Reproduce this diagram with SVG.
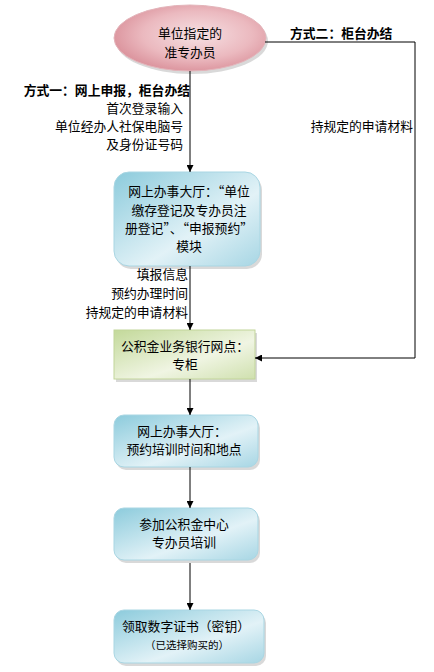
<svg xmlns="http://www.w3.org/2000/svg" width="434" height="672" viewBox="0 0 434 672">
<style>
text{font-family:"SimSun","Noto Sans CJK SC",sans-serif;font-size:12.8px;fill:#000}
.b{font-weight:bold}
.c{text-anchor:middle}
.r{text-anchor:end}
.sm{font-size:10.5px}
.blue{fill:url(#gb);stroke:#a9d6e3;stroke-width:1}
.green{fill:url(#gg);stroke:#c2d59a;stroke-width:1}
.sh{fill:#c9c9c9;opacity:0.7}
.ln{fill:none;stroke:#000;stroke-width:1}
</style>
<defs>
<linearGradient id="gb" x1="0" y1="0" x2="1" y2="1">
<stop offset="0" stop-color="#8ccbdc"/>
<stop offset="0.6" stop-color="#e2f2f7"/>
<stop offset="1" stop-color="#a7d6e4"/>
</linearGradient>
<linearGradient id="gg" x1="0" y1="0" x2="1" y2="1">
<stop offset="0" stop-color="#c3d99a"/>
<stop offset="0.6" stop-color="#f0f5e3"/>
<stop offset="1" stop-color="#cfe0ae"/>
</linearGradient>
<radialGradient id="gp" cx="0.55" cy="0.45" r="0.6">
<stop offset="0" stop-color="#f6e0e3"/>
<stop offset="0.6" stop-color="#ebb9bf"/>
<stop offset="1" stop-color="#d98e98"/>
</radialGradient>
<marker id="ar" viewBox="0 0 10 10" refX="10" refY="5" markerWidth="7" markerHeight="7" markerUnits="userSpaceOnUse" orient="auto">
<path d="M0,0 L10,5 L0,10 z" fill="#000"/>
</marker>
</defs>

<g id="n-start">
<ellipse class="sh" cx="192" cy="41" rx="76" ry="33"/>
<ellipse cx="190" cy="38" rx="76" ry="33" fill="url(#gp)" stroke="#e3b4ba"/>
<text class="c" x="190" y="38">单位指定的</text>
<text class="c" x="190" y="57">准专办员</text>
</g>

<g id="n-online">
<rect class="sh" x="116" y="175" width="146" height="94" rx="15"/>
<rect class="blue" x="114" y="172" width="146" height="94" rx="15"/>
<text class="c" x="189" y="196">网上办事大厅：“单位</text>
<text class="c" x="189" y="215">缴存登记及专办员注</text>
<text class="c" x="189" y="233">册登记”、“申报预约”</text>
<text class="c" x="189" y="251">模块</text>
</g>

<g id="n-bank">
<rect class="sh" x="116" y="333" width="141" height="49"/>
<rect class="green" x="114" y="330" width="141" height="49"/>
<text class="c" x="185" y="351">公积金业务银行网点：</text>
<text class="c" x="185" y="369">专柜</text>
</g>

<g id="n-book">
<rect class="sh" x="116" y="418" width="144" height="52" rx="10"/>
<rect class="blue" x="114" y="415" width="144" height="52" rx="10"/>
<text class="c" x="182" y="436">网上办事大厅：</text>
<text class="c" x="184" y="454">预约培训时间和地点</text>
</g>

<g id="n-train">
<rect class="sh" x="116" y="511" width="144" height="52" rx="10"/>
<rect class="blue" x="114" y="508" width="144" height="52" rx="10"/>
<text class="c" x="184" y="529">参加公积金中心</text>
<text class="c" x="184" y="547">专办员培训</text>
</g>

<g id="n-cert">
<rect class="sh" x="116" y="613" width="150" height="53" rx="10"/>
<rect class="blue" x="114" y="610" width="150" height="53" rx="10"/>
<text class="c" x="186" y="631">领取数字证书（密钥）</text>
<text class="c sm" x="187" y="649">（已选择购买的）</text>
</g>

<g id="connectors">
<path class="ln" d="M190,71 L190,172" marker-end="url(#ar)"/>
<path class="ln" d="M265,42 L415,42 L415,358 L255,358" marker-end="url(#ar)"/>
<path class="ln" d="M190,266 L190,330" marker-end="url(#ar)"/>
<path class="ln" d="M190,379 L190,415" marker-end="url(#ar)"/>
<path class="ln" d="M190,467 L190,508" marker-end="url(#ar)"/>
<path class="ln" d="M190,563 L190,610" marker-end="url(#ar)"/>
</g>

<g id="labels">
<text class="b" x="290" y="38">方式二：柜台办结</text>
<text class="b r" x="190" y="95">方式一：网上申报，柜台办结</text>
<text class="r" x="183" y="113">首次登录输入</text>
<text class="r" x="183" y="131">单位经办人社保电脑号</text>
<text class="r" x="183" y="149">及身份证号码</text>
<text class="r" x="413" y="131">持规定的申请材料</text>
<text class="r" x="188" y="279">填报信息</text>
<text class="r" x="188" y="298">预约办理时间</text>
<text class="r" x="188" y="317">持规定的申请材料</text>
</g>
</svg>
